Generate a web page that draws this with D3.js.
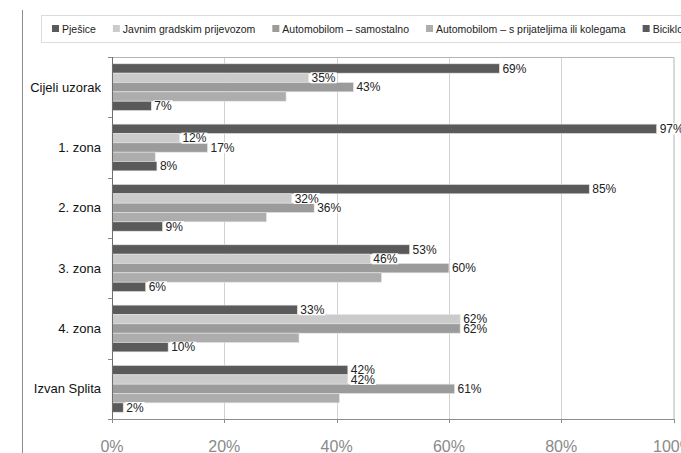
<!DOCTYPE html>
<meta charset="utf-8">
<head>
  <title>Način dolaska</title>
</head>

<style>
body {
  margin: 0;
  background: #fff;
  font-family: "Liberation Sans", Arial, sans-serif;
}

.legend text {
  font-size: 10.5px;
  fill: #222;
}

.cat-label {
  font-size: 13px;
  fill: #111;
}

.x-label {
  font-size: 16px;
  fill: #8a8a8a;
}

.val-label {
  font-size: 12px;
  fill: #222;
}
</style>

<body>
  <svg width="681" height="453"></svg>

  <script src="https://cdnjs.cloudflare.com/ajax/libs/d3/7.8.5/d3.min.js"></script>

  <script>
var categories = ['Cijeli uzorak', '1. zona', '2. zona', '3. zona', '4. zona', 'Izvan Splita'];
var seriesNames = [
  'Pješice',
  'Javnim gradskim prijevozom',
  'Automobilom – samostalno',
  'Automobilom – s prijateljima ili kolegama',
  'Biciklom'
];
var seriesColors = ['#5a5a5a', '#cbcbcb', '#9b9b9b', '#adadad', '#5a5a5a'];

var pjesice     = [69, 97, 85, 53, 33, 42];
var javnim      = [35, 12, 32, 46, 62, 42];
var samostalno  = [43, 17, 36, 60, 62, 61];
var prijatelji  = [31, 7.7, 27.5, 48, 33.3, 40.5];
var biciklom    = [7, 8, 9, 6, 10, 2];

// which series get a value label in the original
var labelled = [true, true, true, false, true];

var xTicks = [0, 20, 40, 60, 80, 100];

var values = [pjesice, javnim, samostalno, prijatelji, biciklom];

var svg = d3.select('svg');

var plotLeft = 112, plotRight = 673.5, plotTop = 57, plotBottom = 419;

var x = d3.scaleLinear().domain([0, 100]).range([plotLeft, plotRight]);
var y = d3.scaleBand().domain(categories).range([plotTop, plotBottom]).padding(0);
var yInner = d3.scaleBand()
  .domain(d3.range(seriesNames.length))
  .range([6.8, y.bandwidth() - 6.8])
  .padding(0);

// page margin line
svg.append('line')
  .attr('x1', 22.5).attr('x2', 22.5)
  .attr('y1', 10).attr('y2', 453)
  .attr('stroke', '#8c8c8c');

// legend box
svg.append('rect')
  .attr('x', 41.5).attr('y', 15.5)
  .attr('width', 660).attr('height', 27)
  .attr('fill', '#fff')
  .attr('stroke', '#dcdcdc');

var legend = svg.append('g').attr('class', 'legend');
var lx = 52;
seriesNames.forEach(function(name, i) {
  var g = legend.append('g').attr('transform', 'translate(' + lx + ',0)');
  g.append('rect')
    .attr('x', 0).attr('y', 25)
    .attr('width', 7).attr('height', 7)
    .attr('fill', seriesColors[i]);
  var t = g.append('text')
    .attr('x', 10).attr('y', 32.5)
    .text(name);
  lx += 10 + t.node().getComputedTextLength() + 17;
});

// gridlines
svg.append('g')
  .selectAll('line')
  .data(xTicks.slice(1, -1))
  .enter()
  .append('line')
  .attr('x1', function(d) { return Math.round(x(d)) + 0.5; })
  .attr('x2', function(d) { return Math.round(x(d)) + 0.5; })
  .attr('y1', plotTop).attr('y2', plotBottom)
  .attr('stroke', '#d2d2d2');

// plot frame top/right
svg.append('path')
  .attr('d', 'M' + plotLeft + ',' + (plotTop + 0.5) + 'H' + (plotRight + 0.5) + 'V' + plotBottom)
  .attr('fill', 'none')
  .attr('stroke', '#b4b4b4');

// bars
var groups = svg.append('g')
  .selectAll('g')
  .data(categories)
  .enter()
  .append('g')
  .attr('transform', function(d) { return 'translate(0,' + y(d) + ')'; });

groups.selectAll('rect')
  .data(function(d, ci) {
    return values.map(function(s, si) { return {si: si, v: s[ci]}; });
  })
  .enter()
  .append('rect')
  .attr('x', x(0))
  .attr('y', function(d) { return yInner(d.si); })
  .attr('width', function(d) { return x(d.v) - x(0); })
  .attr('height', yInner.bandwidth())
  .attr('fill', function(d) { return seriesColors[d.si]; })
  .attr('stroke', '#e4e4e4')
  .attr('stroke-width', 0.6);

// value labels with white backing
var labels = groups.selectAll('g.lbl')
  .data(function(d, ci) {
    return values
      .map(function(s, si) { return {si: si, v: s[ci]}; })
      .filter(function(d) { return labelled[d.si]; });
  })
  .enter()
  .append('g')
  .attr('class', 'lbl');

labels.each(function(d) {
  var g = d3.select(this);
  var tx = x(d.v) + 2;
  var ty = yInner(d.si) + yInner.bandwidth() / 2;
  var bg = g.append('rect').attr('fill', '#fff');
  var t = g.append('text')
    .attr('class', 'val-label')
    .attr('x', tx + 1)
    .attr('y', ty + 4.3)
    .text(Math.round(d.v) + '%');
  var w = t.node().getComputedTextLength();
  bg.attr('x', tx).attr('y', ty - 5.5).attr('width', w + 2).attr('height', 11);
});

// y axis
var yAxis = svg.append('g');
yAxis.append('line')
  .attr('x1', plotLeft + 0.5).attr('x2', plotLeft + 0.5)
  .attr('y1', plotTop).attr('y2', plotBottom)
  .attr('stroke', '#6e6e6e');
yAxis.selectAll('line.tick')
  .data(d3.range(categories.length + 1))
  .enter()
  .append('line')
  .attr('class', 'tick')
  .attr('x1', plotLeft - 4).attr('x2', plotLeft)
  .attr('y1', function(i) { return Math.round(plotTop + i * y.step()) + 0.5; })
  .attr('y2', function(i) { return Math.round(plotTop + i * y.step()) + 0.5; })
  .attr('stroke', '#8c8c8c');

yAxis.selectAll('text')
  .data(categories)
  .enter()
  .append('text')
  .attr('class', 'cat-label')
  .attr('x', 101)
  .attr('y', function(d) { return y(d) + y.bandwidth() / 2 + 4.5; })
  .attr('text-anchor', 'end')
  .text(function(d) { return d; });

// x axis
var xAxis = svg.append('g');
xAxis.append('line')
  .attr('x1', plotLeft - 4).attr('x2', plotRight + 0.5)
  .attr('y1', plotBottom + 0.5).attr('y2', plotBottom + 0.5)
  .attr('stroke', '#8c8c8c');
xAxis.selectAll('line.tick')
  .data(xTicks)
  .enter()
  .append('line')
  .attr('x1', function(d) { return Math.round(x(d)) + 0.5; })
  .attr('x2', function(d) { return Math.round(x(d)) + 0.5; })
  .attr('y1', plotBottom).attr('y2', plotBottom + 4)
  .attr('stroke', '#8c8c8c');
xAxis.selectAll('text')
  .data(xTicks)
  .enter()
  .append('text')
  .attr('class', 'x-label')
  .attr('x', function(d) { return x(d); })
  .attr('y', 452)
  .attr('text-anchor', 'middle')
  .text(function(d) { return d + '%'; });
  </script>
</body>
</html>
